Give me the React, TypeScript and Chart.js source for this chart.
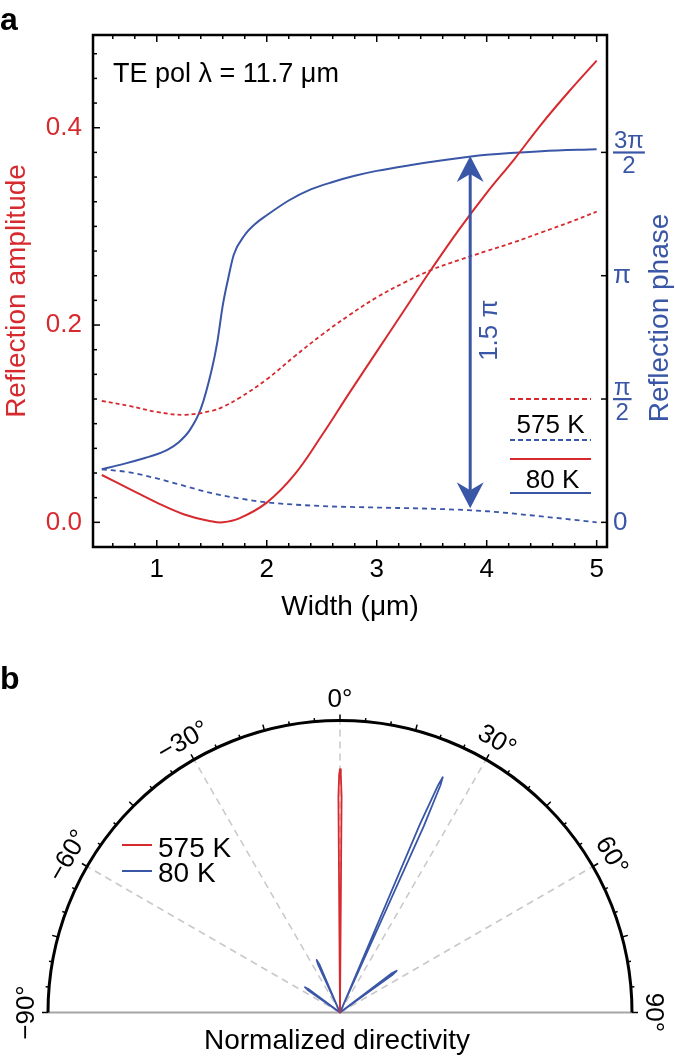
import React, { useEffect, useRef } from "react";
import { Chart, registerables } from "chart.js";

Chart.register(...registerables);

const RED = "#d62a2f";
const BLUE = "#3a56a6";
const FONT_FAMILY = "'Liberation Sans', Arial, Helvetica, sans-serif";
const font = (size: number, weight = "normal", style = "normal") =>
  `${style} ${weight} ${size}px ${FONT_FAMILY}`;

Chart.defaults.font.family = FONT_FAMILY;

// ---------------- Panel a data ----------------
const ampWidths = [0.5, 0.75, 1.0, 1.25, 1.5, 1.6, 1.75, 2.0, 2.25, 2.5, 2.75, 3.0, 3.25, 3.5, 3.75, 4.0, 4.25, 4.5, 4.75, 5.0];
const amp80K = [0.048, 0.034, 0.02, 0.008, 0.001, 0.0, 0.004, 0.02, 0.048, 0.088, 0.131, 0.173, 0.215, 0.257, 0.297, 0.334, 0.368, 0.404, 0.437, 0.468];
const amp575K = [0.123, 0.118, 0.112, 0.109, 0.113, 0.117, 0.126, 0.145, 0.168, 0.19, 0.21, 0.228, 0.243, 0.256, 0.266, 0.275, 0.284, 0.294, 0.304, 0.315];

// phase in units of π
const phaseWidths80K = [0.5, 0.7, 0.9, 1.0, 1.1, 1.2, 1.3, 1.4, 1.5, 1.55, 1.6, 1.65, 1.7, 1.8, 1.9, 2.0, 2.2, 2.4, 2.6, 2.8, 3.0, 3.3, 3.6, 4.0, 4.5, 5.0];
const phase80K = [0.215, 0.237, 0.262, 0.276, 0.295, 0.325, 0.374, 0.46, 0.62, 0.73, 0.88, 0.99, 1.085, 1.165, 1.212, 1.245, 1.305, 1.35, 1.38, 1.405, 1.425, 1.448, 1.468, 1.49, 1.505, 1.513];
const phaseWidths575K = [0.5, 0.75, 1.0, 1.25, 1.5, 1.75, 2.0, 2.5, 3.0, 3.5, 4.0, 4.5, 5.0];
const phase575K = [0.215, 0.203, 0.178, 0.148, 0.118, 0.097, 0.081, 0.066, 0.06, 0.055, 0.045, 0.024, 0.0];

const widthTicks = [1, 2, 3, 4, 5];
const amplitudeTicks = [0, 0.2, 0.4];
const phaseTickValues = [0, 0.5, 1, 1.5];
const phaseTickNumerators = ["0", "π", "π", "3π"];
const phaseTickDenominators = ["", "2", "", "2"];
const legendALabels = ["575 K", "80 K"];
const annotationText = "TE pol λ = 11.7 μm";

const arrowWidth = 3.85;
const arrowPhaseFrom = 0.057;
const arrowPhaseTo = 1.485;
const arrowLabel = "1.5 π";

// ---------------- Panel b data ----------------
// normalized directivity, angle in degrees
const redPatternAngles = [0, -0.42, -0.2, 0, 0.2, 0.42, 0];
const redPatternValues = [0, 0.74, 0.815, 0.833, 0.815, 0.74, 0];
const bluePatternAngles = [
  -54.2, -55.0, -54.2, -53.4, -54.2,
  -23.9, -24.6, -23.9, -23.2, -23.9,
  23.6, 23.0, 23.35, 23.6, 23.85, 24.2, 23.6,
  53.6, 52.8, 53.6, 54.4, 53.6,
];
const bluePatternValues = [
  0, 0.135, 0.148, 0.135, 0,
  0, 0.18, 0.197, 0.18, 0,
  0, 0.7, 0.85, 0.879, 0.85, 0.7, 0,
  0, 0.22, 0.241, 0.22, 0,
];
const angleLabelValues = [-90, -60, -30, 0, 30, 60, 90];
const spokeAngles = [-60, -30, 0, 30, 60];
const legendBLabels = ["575 K", "80 K"];

const toXY = (xs: number[], ys: number[]) => xs.map((x, i) => ({ x, y: ys[i] }));
const toPolarXY = (angles: number[], values: number[]) =>
  angles.map((a, i) => ({
    x: values[i] * Math.sin((a * Math.PI) / 180),
    y: values[i] * Math.cos((a * Math.PI) / 180),
  }));

function seg(ctx: CanvasRenderingContext2D, x1: number, y1: number, x2: number, y2: number) {
  ctx.beginPath();
  ctx.moveTo(x1, y1);
  ctx.lineTo(x2, y2);
  ctx.stroke();
}

function arrowHead(ctx: CanvasRenderingContext2D, x: number, yTip: number, dir: number) {
  // dir = -1 points up, +1 points down
  const L = 26, W = 13.5, notch = 8;
  ctx.beginPath();
  ctx.moveTo(x, yTip);
  ctx.lineTo(x - W, yTip - dir * L);
  ctx.lineTo(x, yTip - dir * (L - notch));
  ctx.lineTo(x + W, yTip - dir * L);
  ctx.closePath();
  ctx.fill();
}

const panelAPlugin = {
  id: "panelA",
  afterDraw(chart: any) {
    const ctx: CanvasRenderingContext2D = chart.ctx;
    const { left, right, top, bottom } = chart.chartArea;
    const xs = chart.scales.x, ys = chart.scales.y, y2 = chart.scales.y2;
    ctx.save();
    // frame
    ctx.strokeStyle = "#000";
    ctx.lineWidth = 2.5;
    ctx.strokeRect(left, top, right - left, bottom - top);
    // x ticks top & bottom (inward)
    ctx.lineWidth = 1.5;
    for (let k = 3; k <= 25; k++) {
      const v = k * 0.2;
      const px = xs.getPixelForValue(v);
      const major = Math.abs(v - Math.round(v)) < 1e-6;
      const len = major ? 7 : 4;
      seg(ctx, px, bottom, px, bottom - len);
      seg(ctx, px, top, px, top + len);
    }
    // left ticks
    for (let k = 0; k <= 19; k++) {
      const v = k * 0.025;
      const py = ys.getPixelForValue(v);
      const major = amplitudeTicks.some((t) => Math.abs(t - v) < 1e-6);
      seg(ctx, left, py, left + (major ? 7 : 4), py);
    }
    // right ticks + labels
    ctx.fillStyle = BLUE;
    phaseTickValues.forEach((val, i) => {
      const py = y2.getPixelForValue(val);
      ctx.strokeStyle = "#000";
      ctx.lineWidth = 1.5;
      seg(ctx, right, py, right - 6, py);
      const num = phaseTickNumerators[i];
      const den = phaseTickDenominators[i];
      if (!den) {
        ctx.font = font(26);
        ctx.textAlign = "left";
        ctx.textBaseline = "middle";
        ctx.fillText(num, right + 6, py);
      } else {
        ctx.font = font(24);
        const w = Math.max(ctx.measureText(num).width, ctx.measureText(den).width);
        const cx = right + 7 + w / 2;
        ctx.textAlign = "center";
        ctx.textBaseline = "alphabetic";
        ctx.fillText(num, cx, py - 4);
        ctx.fillText(den, cx, py + 21);
        ctx.fillRect(right + 6, py - 1, w + 2, 2.2);
      }
    });
    // right title
    ctx.save();
    ctx.translate(668, (top + bottom) / 2 + 27);
    ctx.rotate(-Math.PI / 2);
    ctx.font = font(28);
    ctx.fillStyle = BLUE;
    ctx.textAlign = "center";
    ctx.textBaseline = "alphabetic";
    ctx.fillText("Reflection phase", 0, 0);
    ctx.restore();

    // arrow
    const ax = xs.getPixelForValue(arrowWidth);
    const yTop = y2.getPixelForValue(arrowPhaseTo);
    const yBot = y2.getPixelForValue(arrowPhaseFrom);
    ctx.fillStyle = BLUE;
    ctx.strokeStyle = BLUE;
    ctx.lineWidth = 3;
    seg(ctx, ax, yTop + 18, ax, yBot - 18);
    arrowHead(ctx, ax, yTop, -1);
    arrowHead(ctx, ax, yBot, 1);
    ctx.save();
    ctx.translate(ax + 27, (yTop + yBot) / 2 - 2);
    ctx.rotate(-Math.PI / 2);
    ctx.font = font(26);
    ctx.textAlign = "center";
    ctx.textBaseline = "alphabetic";
    ctx.fillText(arrowLabel, 0, 0);
    ctx.restore();

    // legend
    const lx1 = right - 97, lx2 = right - 16;
    const legendY = y2.getPixelForValue(0.5);
    ctx.lineWidth = 2;
    ctx.strokeStyle = RED;
    ctx.setLineDash([5, 3]);
    seg(ctx, lx1, legendY, lx2, legendY);
    ctx.strokeStyle = BLUE;
    seg(ctx, lx1, legendY + 41, lx2, legendY + 41);
    ctx.setLineDash([]);
    ctx.strokeStyle = RED;
    seg(ctx, lx1, legendY + 60, lx2, legendY + 60);
    ctx.strokeStyle = BLUE;
    seg(ctx, lx1, legendY + 94, lx2, legendY + 94);
    ctx.fillStyle = "#000";
    ctx.font = font(26);
    ctx.textAlign = "center";
    ctx.textBaseline = "alphabetic";
    ctx.fillText(legendALabels[0], (lx1 + lx2) / 2, legendY + 34);
    ctx.fillText(legendALabels[1], (lx1 + lx2) / 2 + 2, legendY + 89);

    // annotation
    ctx.font = font(27);
    ctx.textAlign = "left";
    ctx.fillText(annotationText, left + 20, top + 47);

    // panel label
    ctx.font = font(32, "bold");
    ctx.fillText("a", 0, 30);
    ctx.restore();
  },
};

const panelBPlugin = {
  id: "panelB",
  beforeDatasetsDraw(chart: any) {
    const ctx: CanvasRenderingContext2D = chart.ctx;
    const xs = chart.scales.x, ys = chart.scales.y;
    const cx = xs.getPixelForValue(0), cy = ys.getPixelForValue(0);
    const R = xs.getPixelForValue(1) - cx;
    ctx.save();
    // spokes
    ctx.strokeStyle = "#c8c8c8";
    ctx.lineWidth = 1.5;
    ctx.setLineDash([7, 5]);
    for (const a of spokeAngles) {
      const t = (a * Math.PI) / 180;
      seg(ctx, cx, cy, cx + R * Math.sin(t), cy - R * Math.cos(t));
    }
    ctx.setLineDash([]);
    // baseline
    ctx.strokeStyle = "#a5a5a5";
    ctx.lineWidth = 2;
    seg(ctx, cx - R, cy, cx + R, cy);
    // arc
    ctx.strokeStyle = "#000";
    ctx.lineWidth = 3;
    ctx.beginPath();
    ctx.arc(cx, cy, R, Math.PI, 2 * Math.PI);
    ctx.stroke();
    // ticks
    ctx.lineWidth = 1.5;
    for (let a = -90; a <= 90; a += 5) {
      const t = (a * Math.PI) / 180;
      const len = a % 15 === 0 ? 6 : 3.5;
      seg(ctx, cx + R * Math.sin(t), cy - R * Math.cos(t), cx + (R + len) * Math.sin(t), cy - (R + len) * Math.cos(t));
    }
    // angle labels
    ctx.fillStyle = "#000";
    ctx.font = font(26);
    ctx.textAlign = "center";
    ctx.textBaseline = "middle";
    for (const a of angleLabelValues) {
      const t = (a * Math.PI) / 180;
      const lr = R + 21;
      ctx.save();
      ctx.translate(cx + lr * Math.sin(t), cy - lr * Math.cos(t));
      ctx.rotate(t);
      const txt = (a < 0 ? "\u2212" + Math.abs(a) : String(a)) + "°";
      ctx.fillText(txt, 0, 0);
      ctx.restore();
    }
    ctx.restore();
  },
  afterDraw(chart: any) {
    const ctx: CanvasRenderingContext2D = chart.ctx;
    const xs = chart.scales.x, ys = chart.scales.y;
    const cx = xs.getPixelForValue(0), cy = ys.getPixelForValue(0);
    ctx.save();
    // legend
    ctx.lineWidth = 2;
    ctx.strokeStyle = RED;
    seg(ctx, 122, 205, 152, 205);
    ctx.strokeStyle = BLUE;
    seg(ctx, 122, 231, 152, 231);
    ctx.fillStyle = "#000";
    ctx.font = font(28);
    ctx.textAlign = "left";
    ctx.textBaseline = "alphabetic";
    ctx.fillText(legendBLabels[0], 158, 217);
    ctx.fillText(legendBLabels[1], 158, 242);
    // axis label
    ctx.textAlign = "center";
    ctx.fillText("Normalized directivity", cx - 3, cy + 36);
    // panel label
    ctx.font = font(32, "bold");
    ctx.textAlign = "left";
    ctx.fillText("b", 0, 49);
    ctx.restore();
  },
};

export default function App() {
  const refA = useRef<HTMLCanvasElement>(null);
  const refB = useRef<HTMLCanvasElement>(null);

  useEffect(() => {
    const chartA = new Chart(refA.current as HTMLCanvasElement, {
      type: "line",
      data: {
        datasets: [
          {
            label: "575 K amplitude",
            data: toXY(ampWidths, amp575K),
            yAxisID: "y",
            borderColor: RED,
            borderWidth: 1.8,
            borderDash: [4, 3],
            pointRadius: 0,
            tension: 0.4,
            fill: false,
          },
          {
            label: "80 K amplitude",
            data: toXY(ampWidths, amp80K),
            yAxisID: "y",
            borderColor: RED,
            borderWidth: 2,
            pointRadius: 0,
            tension: 0.4,
            fill: false,
          },
          {
            label: "575 K phase",
            data: toXY(phaseWidths575K, phase575K),
            yAxisID: "y2",
            borderColor: BLUE,
            borderWidth: 1.8,
            borderDash: [5, 4],
            pointRadius: 0,
            cubicInterpolationMode: "monotone",
            fill: false,
          },
          {
            label: "80 K phase",
            data: toXY(phaseWidths80K, phase80K),
            yAxisID: "y2",
            borderColor: BLUE,
            borderWidth: 2,
            pointRadius: 0,
            cubicInterpolationMode: "monotone",
            fill: false,
          },
        ],
      },
      options: {
        responsive: false,
        animation: false,
        devicePixelRatio: 1,
        layout: { padding: { top: 35, left: 0, right: 0, bottom: 0 } },
        plugins: { legend: { display: false }, tooltip: { enabled: false } },
        scales: {
          x: {
            type: "linear",
            min: 0.42,
            max: 5.094,
            grid: { display: false, drawTicks: false },
            border: { display: false },
            afterBuildTicks: (s: any) => {
              s.ticks = widthTicks.map((v) => ({ value: v }));
            },
            afterFit: (s: any) => {
              s.height = 93;
            },
            ticks: {
              font: { size: 26 },
              color: "#000",
              padding: 7,
              maxRotation: 0,
              autoSkip: false,
              callback: (v: any) => String(v),
            },
            title: {
              display: true,
              text: "Width (μm)",
              font: { size: 28 },
              color: "#000",
              padding: { top: 0, bottom: 16 },
            },
          },
          y: {
            type: "linear",
            position: "left",
            min: -0.025,
            max: 0.494,
            grid: { display: false, drawTicks: false },
            border: { display: false },
            afterBuildTicks: (s: any) => {
              s.ticks = amplitudeTicks.map((v) => ({ value: v }));
            },
            afterFit: (s: any) => {
              s.width = 93;
            },
            ticks: {
              font: { size: 26 },
              color: RED,
              padding: 11,
              callback: (v: any) => Number(v).toFixed(1),
            },
            title: {
              display: true,
              text: "Reflection amplitude",
              font: { size: 28 },
              color: RED,
              padding: 0,
            },
          },
          y2: {
            type: "linear",
            position: "right",
            min: -0.1,
            max: 1.976,
            grid: { display: false, drawTicks: false },
            border: { display: false },
            ticks: { display: false },
            afterFit: (s: any) => {
              s.width = 68;
            },
          },
        },
      } as any,
      plugins: [panelAPlugin],
    });

    const chartB = new Chart(refB.current as HTMLCanvasElement, {
      type: "scatter",
      data: {
        datasets: [
          {
            label: "575 K",
            data: toPolarXY(redPatternAngles, redPatternValues),
            showLine: true,
            borderColor: RED,
            borderWidth: 1.8,
            borderJoinStyle: "round",
            borderCapStyle: "round",
            pointRadius: 0,
            tension: 0,
          },
          {
            label: "80 K",
            data: toPolarXY(bluePatternAngles, bluePatternValues),
            showLine: true,
            borderColor: BLUE,
            borderWidth: 1.8,
            borderJoinStyle: "round",
            borderCapStyle: "round",
            pointRadius: 0,
            tension: 0,
          },
        ],
      },
      options: {
        responsive: false,
        animation: false,
        devicePixelRatio: 1,
        layout: { padding: { left: 18.8, right: 13.8, top: 22.1, bottom: 14.3 } },
        plugins: { legend: { display: false }, tooltip: { enabled: false } },
        scales: {
          x: { type: "linear", display: false, min: -1.1, max: 1.1 },
          y: { type: "linear", display: false, min: -0.1, max: 1.2 },
        },
      } as any,
      plugins: [panelBPlugin],
    });

    return () => {
      chartA.destroy();
      chartB.destroy();
    };
  }, []);

  return (
    <div style={{ position: "absolute", left: 0, top: 0, width: 675, height: 1056, background: "#fff" }}>
      <canvas
        ref={refA}
        width={675}
        height={640}
        style={{ position: "absolute", left: 0, top: 0, width: 675, height: 640 }}
      />
      <canvas
        ref={refB}
        width={675}
        height={416}
        style={{ position: "absolute", left: 0, top: 640, width: 675, height: 416 }}
      />
    </div>
  );
}
